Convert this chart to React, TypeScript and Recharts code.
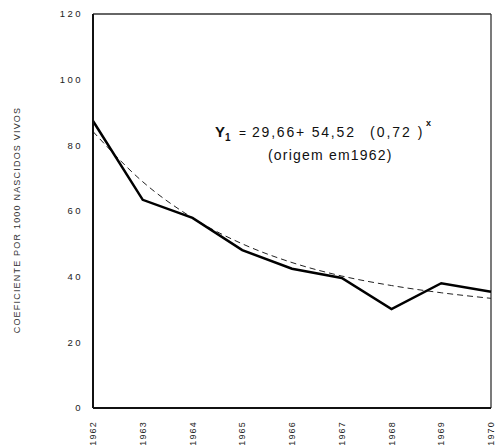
import React from 'react';
import { LineChart, Line, XAxis, YAxis, ReferenceLine, Customized } from 'recharts';

const years = [1962, 1963, 1964, 1965, 1966, 1967, 1968, 1969, 1970];
const observed = [87.4, 63.4, 57.9, 48.1, 42.4, 39.6, 30.1, 38.0, 35.4];
const fitted = [84.2, 68.9, 57.9, 50.0, 44.3, 40.2, 37.3, 35.1, 33.4];
const yTicks = [0, 20, 40, 60, 80, 100, 120];

const data = years.map((y, i) => ({ year: y, observed: observed[i], fitted: fitted[i] }));

const FONT = '"Liberation Sans", "DejaVu Sans", sans-serif';

const YTick = (props: any) => {
  const { x, y, payload } = props;
  return (
    <text x={x - 2} y={y} dy="0.35em" textAnchor="end" fontFamily={FONT} fontSize={9.5}
      letterSpacing={2.5} fill="#222">{payload.value}</text>
  );
};

const XTick = (props: any) => {
  const { x, y, payload } = props;
  const ty = y + 5;
  return (
    <text x={x} y={ty} transform={`rotate(-90, ${x}, ${ty})`} dy="0.35em" textAnchor="end"
      fontFamily={FONT} fontSize={9} letterSpacing={1.2} fill="#222">{payload.value}</text>
  );
};

const Annotations = () => (
  <g fontFamily={FONT} fill="#111" style={{ whiteSpace: 'pre' }}>
    <text x={17} y={220} transform="rotate(-90, 17, 220)" textAnchor="middle" dy="0.35em"
      fontSize={9} letterSpacing={1.2} fill="#333">COEFICIENTE POR 1000 NASCIDOS VIVOS</text>
    <text y={137} fontSize={14} style={{ whiteSpace: 'pre' }}>
      <tspan x={215} fontWeight="bold" fontSize={15}>Y</tspan>
      <tspan fontWeight="bold" fontSize={10} dy={4}>1</tspan>
      <tspan x={239} dy={-4} fontSize={12}>=</tspan>
      <tspan x={252} letterSpacing={1.8}>29,66+ 54,52</tspan>
      <tspan x={370} letterSpacing={2}>(0,72 )</tspan>
      <tspan x={426} fontSize={9} fontWeight="bold" dy={-11}>x</tspan>
    </text>
    <text x={268} y={160} fontSize={14} letterSpacing={1.2}>(origem em1962)</text>
  </g>
);

export default function App() {
  return (
    <div style={{ position: 'absolute', left: 0, top: 0, background: '#fff' }}>
      <LineChart width={498} height={446} data={data}
        margin={{ top: 14, right: 7, bottom: 0, left: 63 }}>
        <XAxis dataKey="year" type="number" domain={[1962, 1970]} ticks={years}
          tick={<XTick />} tickLine={false} axisLine={{ stroke: '#111', strokeWidth: 2 }}
          height={38} interval={0} />
        <YAxis type="number" domain={[0, 120]} ticks={yTicks} tick={<YTick />} tickLine={false}
          axisLine={{ stroke: '#111', strokeWidth: 2 }} width={30} interval={0} />
        <ReferenceLine y={120} stroke="#333" strokeWidth={1.3} />
        <ReferenceLine x={1970} stroke="#333" strokeWidth={1.3} />
        <Line dataKey="fitted" type="monotone" stroke="#222" strokeWidth={1} strokeDasharray="6 4"
          dot={false} isAnimationActive={false} />
        <Line dataKey="observed" type="linear" stroke="#000" strokeWidth={2.5}
          dot={false} isAnimationActive={false} />
        <Customized component={Annotations} />
      </LineChart>
    </div>
  );
}
